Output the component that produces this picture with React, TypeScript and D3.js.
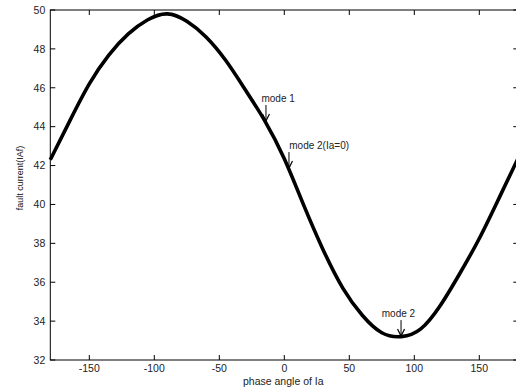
import { useEffect, useRef } from 'react';
import * as d3 from 'd3';

// phase angle of Ia (deg) and fault current
const phaseAngles = [-180, -165, -150, -135, -120, -105, -90, -75, -60, -45, -30, -15, 0, 15, 30, 45, 60, 75, 90, 105, 120, 135, 150, 165, 180];
const faultCurrent = [42.3, 44.3, 46.2, 47.68, 48.77, 49.5, 49.8, 49.42, 48.6, 47.4, 45.9, 44.3, 42.35, 39.95, 37.65, 35.7, 34.3, 33.4, 33.2, 33.6, 34.8, 36.45, 38.25, 40.3, 42.4];

const xTicks = [-150, -100, -50, 0, 50, 100, 150];
const yTicks = [32, 34, 36, 38, 40, 42, 44, 46, 48, 50];

const modeLabels = ['mode 1', 'mode 2(Ia=0)', 'mode 2'];
const modeAngles = [-14.1, 3.6, 89.8];
const modeCurrents = [44.29, 41.87, 33.23];

export default function App() {
  const svgRef = useRef<SVGSVGElement>(null);
  const width = 516;
  const height = 387;

  useEffect(() => {
    if (!svgRef.current) return;
    const svg = d3.select(svgRef.current);
    svg.selectAll('*').remove();

    const left = 50.3;
    const right = 518.3;
    const top = 10;
    const bottom = 360;
    const font = 'Arial, "Liberation Sans", sans-serif';

    const x = d3.scaleLinear().domain([-180, 180]).range([left, right]);
    const y = d3.scaleLinear().domain([32, 50]).range([bottom, top]);

    svg.append('rect')
      .attr('width', width)
      .attr('height', height)
      .attr('fill', '#fff');

    // axes box
    svg.append('rect')
      .attr('x', left)
      .attr('y', top)
      .attr('width', right - left)
      .attr('height', bottom - top)
      .attr('fill', 'none')
      .attr('stroke', '#000')
      .attr('stroke-width', 1);

    const tickLen = 5;
    const ticks = svg.append('g').attr('stroke', '#000').attr('stroke-width', 1);
    xTicks.forEach(t => {
      ticks.append('line').attr('x1', x(t)).attr('x2', x(t)).attr('y1', bottom).attr('y2', bottom - tickLen);
      ticks.append('line').attr('x1', x(t)).attr('x2', x(t)).attr('y1', top).attr('y2', top + tickLen);
    });
    yTicks.forEach(t => {
      ticks.append('line').attr('x1', left).attr('x2', left + tickLen).attr('y1', y(t)).attr('y2', y(t));
      ticks.append('line').attr('x1', right).attr('x2', right - tickLen).attr('y1', y(t)).attr('y2', y(t));
    });

    svg.append('g')
      .selectAll('text')
      .data(xTicks)
      .enter().append('text')
      .attr('x', d => x(d))
      .attr('y', bottom + 11.5)
      .attr('text-anchor', 'middle')
      .attr('font-family', font)
      .attr('font-size', '10.5px')
      .attr('fill', '#222')
      .text(d => d);

    svg.append('g')
      .selectAll('text')
      .data(yTicks)
      .enter().append('text')
      .attr('x', left - 5)
      .attr('y', d => y(d) + 3.8)
      .attr('text-anchor', 'end')
      .attr('font-family', font)
      .attr('font-size', '10.5px')
      .attr('fill', '#222')
      .text(d => d);

    svg.append('text')
      .attr('x', 283.3)
      .attr('y', 384.5)
      .attr('text-anchor', 'middle')
      .attr('font-family', font)
      .attr('font-size', '10.5px')
      .attr('fill', '#222')
      .text('phase angle of Ia');

    svg.append('text')
      .attr('transform', 'rotate(-90)')
      .attr('x', -178)
      .attr('y', 23)
      .attr('text-anchor', 'middle')
      .attr('font-family', font)
      .attr('font-size', '9px')
      .attr('fill', '#111')
      .text('fault current(IAf)');

    const points = phaseAngles.map((a, i) => [a, faultCurrent[i]] as [number, number]);
    const line = d3.line<[number, number]>()
      .x(d => x(d[0]))
      .y(d => y(d[1]))
      .curve(d3.curveNatural);

    svg.append('path')
      .datum(points)
      .attr('d', line)
      .attr('fill', 'none')
      .attr('stroke', '#000')
      .attr('stroke-width', 3.6)
      .attr('stroke-linejoin', 'round');

    // annotation arrows
    const labelDx = [-4.5, 0.3, -19.3];
    modeLabels.forEach((label, i) => {
      const ax = x(modeAngles[i]);
      const ay = y(modeCurrents[i]);
      const g = svg.append('g');
      g.append('line')
        .attr('x1', ax).attr('x2', ax)
        .attr('y1', ay - 16).attr('y2', ay)
        .attr('stroke', '#000').attr('stroke-width', 1);
      g.append('path')
        .attr('d', `M${ax - 3.5},${ay - 7}L${ax},${ay}L${ax + 3.5},${ay - 7}`)
        .attr('fill', 'none')
        .attr('stroke', '#000')
        .attr('stroke-width', 1.2);
      g.append('text')
        .attr('x', ax + labelDx[i])
        .attr('y', ay - 19.5)
        .attr('font-family', font)
        .attr('font-size', '10px')
        .attr('fill', '#222')
        .text(label);
    });
  }, []);

  return (
    <svg
      ref={svgRef}
      width={width}
      height={height}
      style={{ position: 'absolute', left: 0, top: 0, display: 'block' }}
    />
  );
}
